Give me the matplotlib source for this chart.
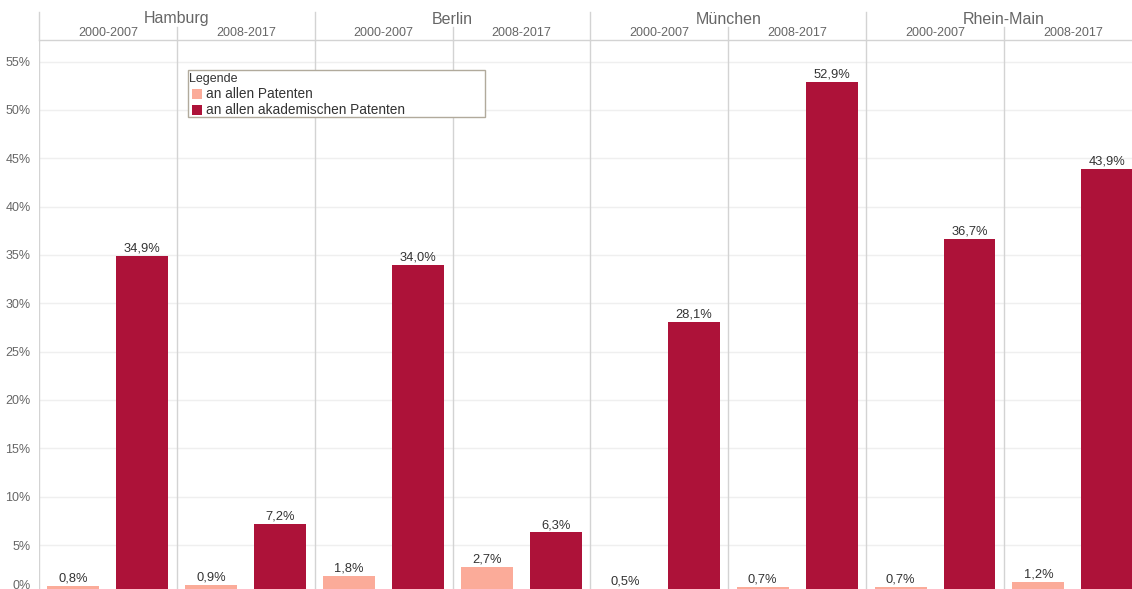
import matplotlib.pyplot as plt
from matplotlib.patches import Rectangle

plt.rcParams['font.family'] = ['Liberation Sans', 'DejaVu Sans']

# Daten
regionen = ["Hamburg", "Berlin", "München", "Rhein-Main"]
perioden = ["2000-2007", "2008-2017"]
anteil_alle = [0.8, 0.9, 1.8, 2.7, 0.5, 0.7, 0.7, 1.2]          # an allen Patenten
anteil_akad = [34.9, 7.2, 34.0, 6.3, 28.1, 52.9, 36.7, 43.9]    # an allen akademischen Patenten
yticks = [0, 5, 10, 15, 20, 25, 30, 35, 40, 45, 50, 55]

c_hell = "#fbab99"
c_dunkel = "#ad1239"
c_line = "#d3d3d3"
c_text = "#666666"

W, H = 1132, 589
fig = plt.figure(figsize=(W / 100, H / 100), dpi=100)

def fx(px):
    return px / W

def fy(py):
    return 1 - py / H

# Achse: 0% liegt knapp unterhalb des Bildrands
left, right, top, zero = 39, 1141.8, 40, 593.4
ax = fig.add_axes([fx(left), fy(zero), fx(right - left), (zero - top) / H])
ymax = (zero - top) / 9.67
ax.set_xlim(0, 8)
ax.set_ylim(0, ymax)

n = len(anteil_alle)
bw = 0.377
x1 = [i + 0.25 for i in range(n)]
x2 = [i + 0.75 for i in range(n)]
ax.bar(x1, anteil_alle, width=bw, color=c_hell, zorder=3)
ax.bar(x2, anteil_akad, width=bw, color=c_dunkel, zorder=3)

def fmt(v):
    return f"{v:.1f}".replace(".", ",") + "%"

for xs, vals in ((x1, anteil_alle), (x2, anteil_akad)):
    for x, v in zip(xs, vals):
        ax.annotate(fmt(v), (x, v), xytext=(0, 1.0), textcoords="offset points",
                    ha="center", va="bottom", fontsize=9.3, color="#333333", zorder=4)

# Gitter und Trennlinien
for t in yticks[1:]:
    ax.axhline(t, color="#efefef", lw=1, zorder=1)
for i in range(n + 1):
    ax.axvline(i, color=c_line, lw=1, zorder=2)

# y-Beschriftung; "0%" sitzt leicht angehoben am unteren Rand
ax.set_yticks(yticks[1:])
ax.set_yticklabels([f"{t}%" for t in yticks[1:]], fontsize=9, color=c_text)
ax.tick_params(axis="y", length=0, pad=6)
ax.annotate(f"{yticks[0]}%", (0, yticks[0]), xycoords=("axes fraction", "data"),
            xytext=(-6, 5.5), textcoords="offset points", ha="right", va="center",
            fontsize=9, color=c_text, annotation_clip=False)
ax.set_xticks([])
for s in ax.spines.values():
    s.set_visible(False)

# Kopfzeile
hdr = ax.get_xaxis_transform()
h_ax = zero - top
def ya(py):
    return (zero - py) / h_ax

ax.plot([0, 8], [1, 1], transform=hdr, color=c_line, lw=1, clip_on=False)
for r, name in enumerate(regionen):
    ax.plot([2 * r, 2 * r], [1, ya(12)], transform=hdr, color=c_line, lw=1, clip_on=False)
    ax.plot([2 * r + 1, 2 * r + 1], [1, ya(27)], transform=hdr, color=c_line, lw=1, clip_on=False)
    ax.text(2 * r + 1, ya(19), name, transform=hdr, ha="center", va="center",
            fontsize=11.5, color=c_text)
    for p, per in enumerate(perioden):
        ax.text(2 * r + p + 0.5, ya(32.5), per, transform=hdr, ha="center", va="center",
                fontsize=9, color=c_text)

# Legende
fig.patches.append(Rectangle((fx(188), fy(117)), fx(485) - fx(188), fy(70) - fy(117),
                             transform=fig.transFigure, facecolor="white",
                             edgecolor="#b1aa9c", lw=1, zorder=5))
fig.text(fx(189), fy(79), "Legende", fontsize=9, color="#333333", va="center", zorder=6)
for k, (lab, col) in enumerate((("an allen Patenten", c_hell),
                                ("an allen akademischen Patenten", c_dunkel))):
    yc = 94 + k * 16
    fig.patches.append(Rectangle((fx(192), fy(yc + 5)), fx(10), 10 / H,
                                 transform=fig.transFigure, facecolor=col,
                                 edgecolor="none", zorder=6))
    fig.text(fx(206), fy(yc), lab, fontsize=9.8, color="#333333", va="center", zorder=6)

fig.savefig("out.png", dpi=100)
